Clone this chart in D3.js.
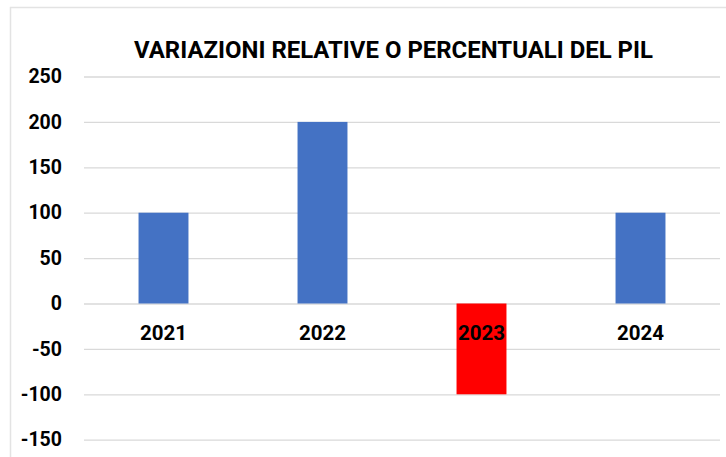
<!DOCTYPE html>
<html>
<head>
<meta charset="utf-8">
<script src="https://cdn.jsdelivr.net/npm/d3@7"></script>
<style>
  body { margin: 0; background: #fff; }
  svg { display: block; }
  text { font-family: Roboto, "Open Sans", sans-serif; font-weight: bold; fill: #000; }
</style>
</head>
<body>
<div id="chart"></div>
<script>
// chart data
var title = "VARIAZIONI RELATIVE O PERCENTUALI DEL PIL";
var years = ["2021", "2022", "2023", "2024"];
var values = [100, 200, -100, 100];
var yTicks = [250, 200, 150, 100, 50, 0, -50, -100, -150];

var width = 726, height = 457;

var svg = d3.select("#chart")
    .append("svg")
    .attr("width", width)
    .attr("height", height);

// outer chart frame (only the top and left edges are in view)
svg.append("rect")
    .attr("x", 10.5)
    .attr("y", 7.5)
    .attr("width", 800)
    .attr("height", 500)
    .attr("fill", "none")
    .attr("stroke", "#e3e3e3")
    .attr("stroke-width", 1.5);

var y = d3.scaleLinear()
    .domain([-150, 250])
    .range([439.7, 76.5]);

var x = d3.scaleBand()
    .domain(years)
    .range([84, 720])
    .paddingInner(0.686)
    .paddingOuter(0.343);

// gridlines + y labels via axis (plain hyphen for negatives)
var yAxis = svg.append("g")
    .attr("transform", "translate(84,0)")
    .call(d3.axisLeft(y)
        .tickValues(yTicks)
        .tickFormat(function(d) { return String(d); })
        .tickSize(-636)
        .tickPadding(22));

yAxis.select(".domain").remove();
yAxis.selectAll(".tick line")
    .attr("stroke", "#d9d9d9")
    .attr("stroke-width", 1.3);
yAxis.selectAll(".tick text")
    .attr("font-size", 19.5)
    .attr("font-family", null)
    .attr("fill", "#000");

// bars
svg.append("g")
    .selectAll("rect")
    .data(values)
    .enter()
    .append("rect")
    .attr("x", function(d, i) { return x(years[i]); })
    .attr("y", function(d) { return y(Math.max(0, d)); })
    .attr("width", x.bandwidth())
    .attr("height", function(d) { return Math.abs(y(d) - y(0)); })
    .attr("fill", function(d) { return d < 0 ? "#ff0000" : "#4472c4"; });

// category labels, just below the zero line
svg.append("g")
    .selectAll("text")
    .data(years)
    .enter()
    .append("text")
    .attr("x", function(d) { return x(d) + x.bandwidth() / 2; })
    .attr("y", y(0) + 36.5)
    .attr("text-anchor", "middle")
    .attr("font-size", 20.5)
    .text(function(d) { return d; });

// title
svg.append("text")
    .attr("x", 393.5)
    .attr("y", 58)
    .attr("text-anchor", "middle")
    .attr("font-size", 23.5)
    .attr("textLength", 519)
    .attr("lengthAdjust", "spacingAndGlyphs")
    .text(title);
</script>
</body>
</html>
